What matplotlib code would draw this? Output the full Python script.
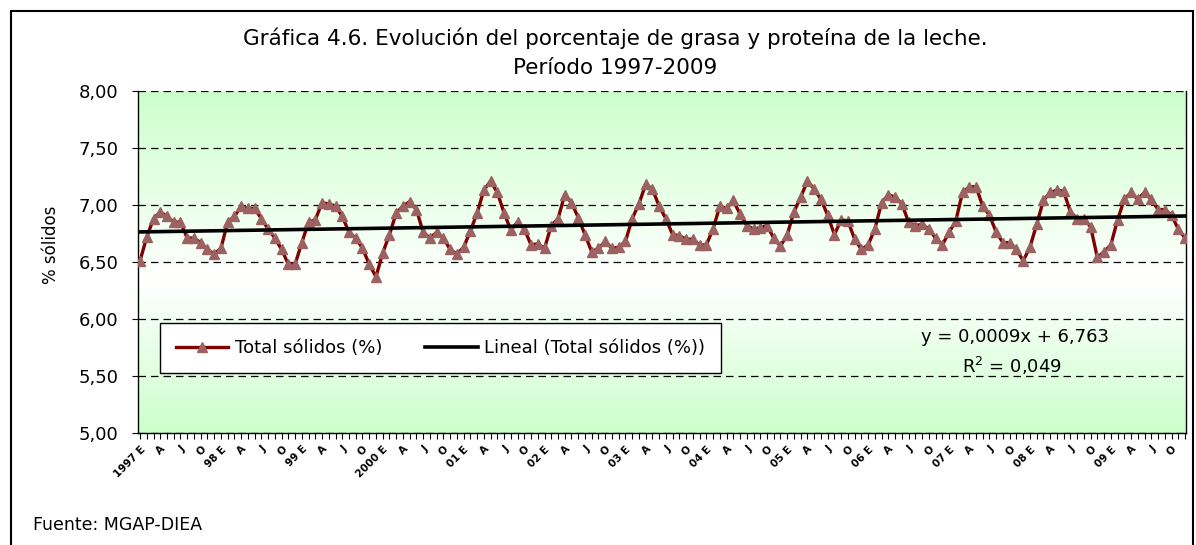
import numpy as np
import matplotlib
matplotlib.use("Agg")
import matplotlib.pyplot as plt
from matplotlib.patches import Rectangle
from matplotlib.colors import LinearSegmentedColormap

# ---------------- data ----------------
years = list(range(1997, 2010))
quarter_letters = ["E", "A", "J", "O"]

total_solidos = [
    6.51, 6.72, 6.88, 6.94, 6.90, 6.85, 6.85, 6.71, 6.71, 6.67, 6.61, 6.57,   # 1997
    6.62, 6.85, 6.90, 6.99, 6.97, 6.97, 6.88, 6.79, 6.71, 6.61, 6.48, 6.48,   # 1998
    6.67, 6.85, 6.87, 7.02, 7.01, 6.99, 6.90, 6.76, 6.71, 6.62, 6.48, 6.37,   # 1999
    6.58, 6.74, 6.93, 6.99, 7.03, 6.96, 6.76, 6.71, 6.76, 6.71, 6.61, 6.57,   # 2000
    6.63, 6.77, 6.93, 7.13, 7.21, 7.11, 6.93, 6.78, 6.85, 6.79, 6.65, 6.66,   # 2001
    6.62, 6.82, 6.88, 7.09, 7.02, 6.89, 6.74, 6.59, 6.62, 6.68, 6.62, 6.63,   # 2002
    6.68, 6.88, 7.01, 7.18, 7.14, 6.99, 6.88, 6.74, 6.73, 6.70, 6.70, 6.65,   # 2003
    6.65, 6.79, 6.99, 6.97, 7.04, 6.92, 6.82, 6.79, 6.80, 6.82, 6.71, 6.64,   # 2004
    6.74, 6.94, 7.07, 7.21, 7.14, 7.05, 6.91, 6.74, 6.87, 6.86, 6.70, 6.61,   # 2005
    6.65, 6.79, 7.02, 7.09, 7.07, 7.01, 6.85, 6.82, 6.83, 6.79, 6.71, 6.65,   # 2006
    6.76, 6.86, 7.11, 7.16, 7.16, 6.99, 6.91, 6.76, 6.67, 6.67, 6.61, 6.51,   # 2007
    6.63, 6.83, 7.04, 7.11, 7.13, 7.12, 6.94, 6.88, 6.88, 6.81, 6.54, 6.59,   # 2008
    6.65, 6.87, 7.05, 7.11, 7.05, 7.11, 7.05, 6.96, 6.96, 6.91, 6.79, 6.71,   # 2009
]

trend_slope = 0.0009
trend_intercept = 6.763
y_ticks = [5.00, 5.50, 6.00, 6.50, 7.00, 7.50, 8.00]

series_label = "Total sólidos (%)"
trend_label = "Lineal (Total sólidos (%))"
title_line1 = "Gráfica 4.6. Evolución del porcentaje de grasa y proteína de la leche."
title_line2 = "Período 1997-2009"
y_label = "% sólidos"
source_text = "Fuente: MGAP-DIEA"
eq_text = "y = 0,0009x + 6,763"
r2_text = "R$^2$ = 0,049"

# ---------------- figure ----------------
plt.rcParams['font.family'] = ['DejaVu Sans']
W, H = 1196, 545
fig = plt.figure(figsize=(W / 100, H / 100), dpi=100)
ax = fig.add_axes([138 / W, 1 - 433 / H, (1186 - 138) / W, (433 - 91) / H])

n = len(total_solidos)
x = np.arange(n)
xmin, xmax = -0.3, n - 0.85

# background gradient: green at top and bottom, white in the centre
t = np.linspace(0, 1, 256)
grad = np.where(t < 0.45, (0.45 - t) / 0.45, (t - 0.45) / 0.55)[:, None]
cmap = LinearSegmentedColormap.from_list('g', ['#ffffff', '#ccffcc'])
ax.imshow(grad, extent=[xmin, xmax, y_ticks[0], y_ticks[-1]], aspect='auto',
          cmap=cmap, origin='lower', zorder=0, interpolation='bilinear')

l1, = ax.plot(x, total_solidos, color='#800000', lw=2.4, marker='^', ms=6.5,
              mfc='#9c6262', mec='#9c6262', zorder=3)
trend = trend_intercept + trend_slope * (x + 1)
l2, = ax.plot(x, trend, color='black', lw=2.6, zorder=4)

ax.set_xlim(xmin, xmax)
ax.set_ylim(y_ticks[0], y_ticks[-1])

# y axis
ax.set_yticks(y_ticks)
ax.set_yticklabels([f"{v:.2f}".replace('.', ',') for v in y_ticks], fontsize=13)
ax.tick_params(axis='y', length=4, width=0.8, direction='out', pad=10)
ax.yaxis.grid(True, linestyle=(0, (6, 4)), color='black', lw=0.9)
ax.set_axisbelow(True)

# x axis
xlabels = []
for i in range(n):
    m = i % 12
    yr = years[i // 12]
    if m % 3 != 0:
        xlabels.append("")
    elif m == 0:
        if i == 0 or yr == 2000:
            xlabels.append(f"{yr} E")
        else:
            xlabels.append(f"{yr % 100:02d} E")
    else:
        xlabels.append(quarter_letters[m // 3])
ax.set_xticks(x)
ax.set_xticklabels(xlabels, fontsize=7.5, fontweight='bold')
for lab in ax.get_xticklabels():
    lab.set_rotation(45)
    lab.set_ha('right')
    lab.set_rotation_mode('anchor')
ax.tick_params(axis='x', length=4, width=0.8, direction='out', pad=4)

for s in ['left', 'bottom', 'right']:
    ax.spines[s].set_color('black')
    ax.spines[s].set_linewidth(1.0)
ax.spines['top'].set_visible(False)

# legend
leg = ax.legend(handles=[l1, l2], labels=[series_label, trend_label], loc='center',
                bbox_to_anchor=(440.5 / W, 1 - 348 / H), bbox_transform=fig.transFigure,
                ncol=2, frameon=True, fancybox=False, edgecolor='black', framealpha=1,
                fontsize=13, handlelength=2.9, handletextpad=0.35, columnspacing=2.4,
                borderpad=0.9)
leg.get_frame().set_linewidth(1.0)
leg.set_zorder(10)

# texts
fig.text(615 / W, 1 - 38 / H, title_line1, ha='center', va='center', fontsize=15.5)
fig.text(615 / W, 1 - 68 / H, title_line2, ha='center', va='center', fontsize=15.5)
fig.text(51 / W, 1 - 245 / H, y_label, rotation=90, ha='center', va='center', fontsize=12)
fig.text(1015 / W, 1 - 337 / H, eq_text, ha='center', va='center', fontsize=13)
fig.text(1012 / W, 1 - 366 / H, r2_text, ha='center', va='center', fontsize=13)
fig.text(33 / W, 1 - 525 / H, source_text, ha='left', va='center', fontsize=12.5)

# outer frame
fig.add_artist(Rectangle((11 / W, -0.02), (1193 - 11) / W, 1 - 11 / H + 0.02,
                         transform=fig.transFigure, fill=False, ec='black', lw=1.5))

fig.savefig('out.png', dpi=100)
